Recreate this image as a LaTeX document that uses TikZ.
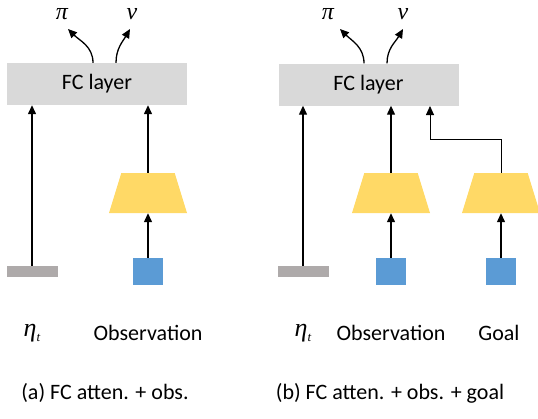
\documentclass[tikz,border=0pt]{standalone}
\usepackage{fontspec}
\setmainfont{Carlito}
\newfontfamily\greekfont{Liberation Serif}
\usetikzlibrary{arrows.meta,shapes.geometric}
\definecolor{fcgray}{HTML}{D9D9D9}
\definecolor{encyellow}{HTML}{FFD966}
\definecolor{imgblue}{HTML}{5B9BD5}
\definecolor{bargray}{HTML}{AEAAAA}
\newcommand{\gk}[1]{{\greekfont\itshape\fontsize{24}{28}\selectfont #1}}
\newcommand{\etat}{{\greekfont\itshape\fontsize{26}{30}\selectfont η\raisebox{-5pt}{\fontsize{13}{15}\selectfont t}}}
\begin{document}
\begin{tikzpicture}[x=1pt, y=-1pt,
    every node/.style={font=\fontsize{22}{26}\selectfont},
    fc/.style={fill=fcgray, minimum width=180pt, minimum height=42pt, inner sep=0pt},
    enc/.style={trapezium, trapezium stretches=true, fill=encyellow, minimum width=78pt, minimum height=40pt, trapezium angle=77, inner sep=2pt},
    img/.style={fill=imgblue, minimum width=30pt, minimum height=27pt, inner sep=0pt},
    bar/.style={fill=bargray, minimum width=51pt, minimum height=11pt, inner sep=0pt},
    outlbl/.style={anchor=base, text height=11pt, text depth=0pt, inner sep=1pt},
    arr/.style={-{Triangle[length=9pt,width=8pt]}, line width=1.3pt},
    thin/.style={-{Triangle[length=9pt,width=8pt]}, line width=0.9pt}]
  \useasboundingbox (0,0) rectangle (538,418);
  % (a) fc attention + observation
  \node[fc] (fcA) at (97,84) {FC layer};
  \node[bar] (etaA) at (32.5,271.5) {};
  \node[enc] (encA) at (148,193) {};
  \node[img] (obsA) at (148,271.5) {};
  \node (etaAlbl) at (32,333) {\etat};
  \node (obsAlbl) at (148,333) {Observation};
  \node[outlbl] (piA) at (62,19) {\gk{π}};
  \node[outlbl] (vA) at (132,19) {\gk{ν}};
  \coordinate (piAend) at (68,29);
  \coordinate (vAend) at (130,29);
  \draw[arr] ([xshift=-4pt]fcA.north) to[out=90, in=-45] (piAend);
  \draw[arr] ([xshift=19pt]fcA.north) to[out=90, in=-120] (vAend);
  \draw[arr] (etaA.north -| etaAlbl) -- (fcA.south -| etaAlbl);
  \draw[arr] (encA.north) -- (fcA.south -| encA);
  \draw[arr] (obsA.north) -- (encA.south);
  \node (capA) at (105,393) {(a) FC atten. + obs.};
  % (b) fc attention + observation + goal
  \node[fc] (fcB) at (368.5,84.5) {FC layer};
  \node[bar] (etaB) at (303.5,271.5) {};
  \node[enc] (encB) at (391,193) {};
  \node[img] (obsB) at (391,271.5) {};
  \node[enc] (encC) at (501,193) {};
  \node[img] (goalB) at (501,271.5) {};
  \node (etaBlbl) at (303,333) {\etat};
  \node (obsBlbl) at (391,333) {Observation};
  \node (goalBlbl) at (499,333) {Goal};
  \node[outlbl] (piB) at (328,19) {\gk{π}};
  \node[outlbl] (vB) at (403,19) {\gk{ν}};
  \coordinate (piBend) at (340,29);
  \coordinate (vBend) at (403,29);
  \coordinate (bend) at (501,139);
  \coordinate (goalin) at (430,106);
  \draw[arr] ([xshift=-4.5pt]fcB.north) to[out=90, in=-45] (piBend);
  \draw[arr] ([xshift=18.5pt]fcB.north) to[out=90, in=-120] (vBend);
  \draw[arr] (etaB.north -| etaBlbl) -- (fcB.south -| etaBlbl);
  \draw[arr] (encB.north) -- (fcB.south -| encB);
  \draw[arr] (obsB.north) -- (encB.south);
  \draw[arr] (goalB.north) -- (encC.south);
  \draw[thin] (encC.north) -- (bend) -| (goalin);
  \node (capB) at (390,393) {(b) FC atten. + obs. + goal};
\end{tikzpicture}
\end{document}
